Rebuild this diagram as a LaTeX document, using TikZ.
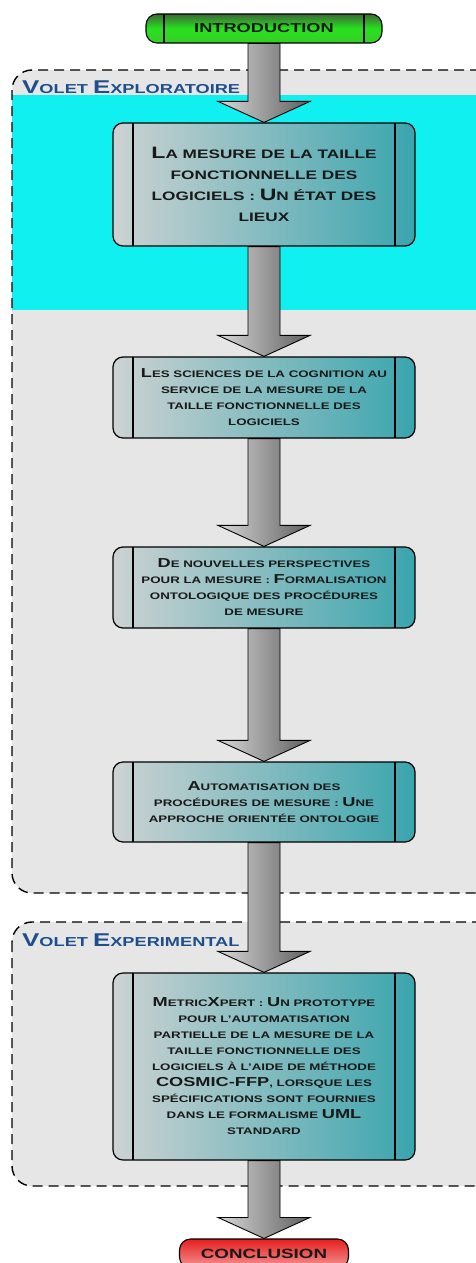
\documentclass[tikz,border=0pt]{standalone}
\usepackage{fontspec}
\setmainfont{Liberation Sans}[FakeStretch=1.4]
\usetikzlibrary{calc}

\definecolor{panel}{RGB}{230,230,230}
\definecolor{aqua}{RGB}{16,240,240}
\definecolor{labelblue}{RGB}{31,78,140}
\definecolor{boxlight}{RGB}{205,210,210}
\definecolor{boxteal}{RGB}{58,165,174}
\definecolor{greentop}{RGB}{60,105,55}
\definecolor{greenmid}{RGB}{40,225,30}
\definecolor{greenbot}{RGB}{55,205,40}
\definecolor{redtop}{RGB}{230,30,30}
\definecolor{redbot}{RGB}{245,150,150}
\definecolor{flowlight}{RGB}{215,215,215}
\definecolor{flowdark}{RGB}{95,95,95}

% small-caps imitation: a letter or word set at a larger size
\newcommand\Cp[2]{{\fontsize{#1}{#1}\selectfont #2}}

\tikzset{
  stage/.style={draw=black, line width=1.2pt, rounded corners=10pt,
    left color=boxlight, right color=boxteal,
    minimum width=302pt, inner sep=0pt, align=center, text=black!90,
    font=\bfseries\fontsize{9.5}{16}\selectfont,
    path picture={
      \draw[line width=1.1pt]
        ($(path picture bounding box.north west)+(20pt,0pt)$) --
        ($(path picture bounding box.south west)+(20pt,0pt)$);
      \draw[line width=1.1pt]
        ($(path picture bounding box.north east)+(-20pt,0pt)$) --
        ($(path picture bounding box.south east)+(-20pt,0pt)$);
    }},
  endcap/.style={draw=black, line width=1.1pt, rounded corners=11pt,
    inner sep=0pt, text=black!90, font=\bfseries\fontsize{13}{13}\selectfont},
  capsides/.style={path picture={
      \draw[line width=1.1pt]
        ($(path picture bounding box.north west)+(18pt,0pt)$) --
        ($(path picture bounding box.south west)+(18pt,0pt)$);
      \draw[line width=1.1pt]
        ($(path picture bounding box.north east)+(-18pt,0pt)$) --
        ($(path picture bounding box.south east)+(-18pt,0pt)$);
    }},
  panelbox/.style={fill=panel, rounded corners=20pt},
  panelline/.style={draw=black, line width=1.4pt,
    dash pattern=on 10pt off 6pt, rounded corners=20pt},
  flow/.style={draw=black, line width=0.9pt, left color=flowlight, right color=flowdark},
  phase/.style={text=labelblue, anchor=base west, inner sep=0pt,
    font=\bfseries\fontsize{13}{13}\selectfont},
}

% thick block arrow from the bottom of one node to the top of the next
\newcommand\flowarrow[2]{%
  \path[flow] let \p1=(#1.south), \p2=(#2.north) in
    (\x1-16pt,\y1) -- (\x1-16pt,\y2+21pt) -- (\x1-46pt,\y2+21pt) --
    (\x1,\y2) -- (\x1+46pt,\y2+21pt) -- (\x1+16pt,\y2+21pt) --
    (\x1+16pt,\y1) -- cycle;}

\begin{document}
\begin{tikzpicture}[x=1pt, y=-1pt]
  \useasboundingbox (0,0) rectangle (476,1263);
  \clip (0,0) rectangle (476,1263);

  % exploratory part
  \path[panelbox] (12,70) rectangle (510,893);
  \fill[aqua] (12,95) rectangle (476,310);
  \draw[panelline] (12,70) rectangle (510,893);
  \node[phase] (lab1) at (22,93) {\Cp{18.5}{V}OLET \Cp{18.5}{E}XPLORATOIRE};

  % experimental part
  \path[panelbox] (12,922) rectangle (510,1186);
  \draw[panelline] (12,922) rectangle (510,1186);
  \node[phase] (lab2) at (22,946) {\Cp{18.5}{V}OLET \Cp{18.5}{E}XPERIMENTAL};

  % steps
  \node[endcap, capsides, top color=greentop, bottom color=greenbot, middle color=greenmid,
        minimum width=236pt, minimum height=29pt] (intro) at (264,28.5) {INTRODUCTION};

  \node[stage, minimum height=123pt, font=\bfseries\fontsize{12.3}{21}\selectfont]
    (s1) at (264,184.5)
    {\Cp{16.5}{L}A MESURE DE LA TAILLE\\
     FONCTIONNELLE DES\\
     LOGICIELS : \Cp{16.5}{U}N ÉTAT DES\\
     LIEUX};

  \node[stage, minimum height=81pt] (s2) at (264,397.5)
    {\Cp{13}{L}ES SCIENCES DE LA COGNITION AU\\
     SERVICE DE LA MESURE DE LA\\
     TAILLE FONCTIONNELLE DES\\
     LOGICIELS};

  \node[stage, minimum height=81pt] (s3) at (264,587.5)
    {\Cp{13}{D}E NOUVELLES PERSPECTIVES\\
     POUR LA MESURE : \Cp{13}{F}ORMALISATION\\
     ONTOLOGIQUE DES PROCÉDURES\\
     DE MESURE};

  \node[stage, minimum height=80pt] (s4) at (264,802)
    {\Cp{13}{A}UTOMATISATION DES\\
     PROCÉDURES DE MESURE : \Cp{13}{U}NE\\
     APPROCHE ORIENTÉE ONTOLOGIE};

  \node[stage, minimum height=187pt] (s5) at (264,1066.5)
    {\Cp{13}{M}ETRIC\Cp{13}{X}PERT : \Cp{13}{U}N PROTOTYPE\\
     POUR L'AUTOMATISATION\\
     PARTIELLE DE LA MESURE DE LA\\
     TAILLE FONCTIONNELLE DES\\
     LOGICIELS À L'AIDE DE MÉTHODE\\
     \Cp{13}{COSMIC-FFP}, LORSQUE LES\\
     SPÉCIFICATIONS SONT FOURNIES\\
     DANS LE FORMALISME \Cp{13}{UML}\\
     STANDARD};

  \node[endcap, top color=redtop, bottom color=redbot,
        minimum width=169pt, minimum height=29pt, font=\bfseries\fontsize{13.4}{13.4}\selectfont]
    (concl) at (264,1253.5) {CONCLUSION};

  % block arrows between consecutive steps
  \flowarrow{intro}{s1}
  \flowarrow{s1}{s2}
  \flowarrow{s2}{s3}
  \flowarrow{s3}{s4}
  \flowarrow{s4}{s5}
  \flowarrow{s5}{concl}
\end{tikzpicture}
\end{document}
